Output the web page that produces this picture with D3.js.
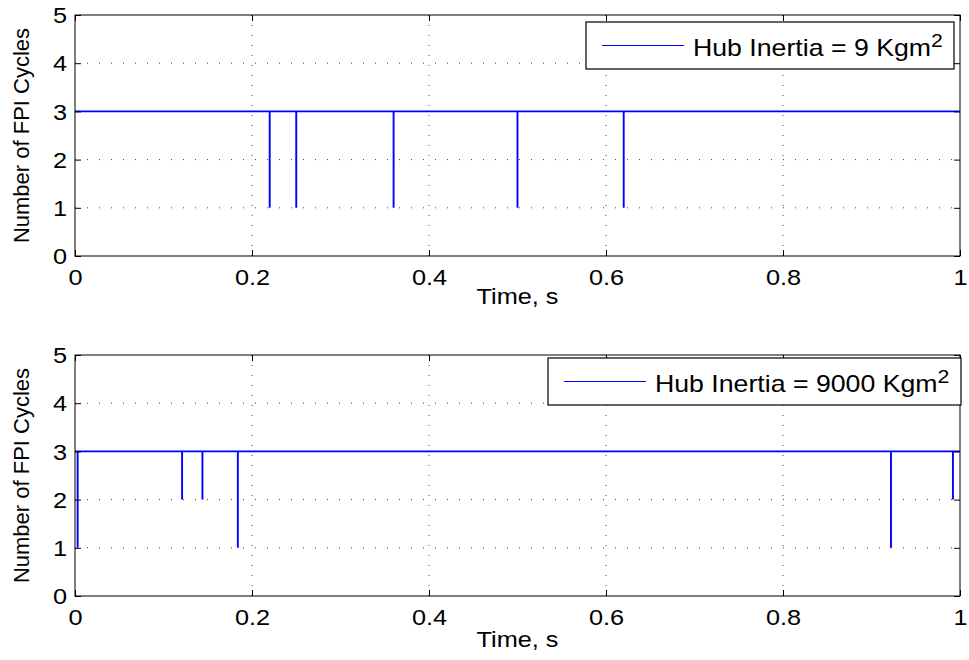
<!DOCTYPE html>
<html>
<head>
<meta charset="utf-8">
<script src="https://cdn.jsdelivr.net/npm/d3@7"></script>
<style>
	body { margin: 0; background: #fff; }
	svg { display: block; font-family: "Liberation Sans", Arial, sans-serif; }
</style>
</head>
<body>
<svg id="chart" width="969" height="660"></svg>
<script>
// data
const xTicks = [0, 0.2, 0.4, 0.6, 0.8, 1];
const yTicks = [0, 1, 2, 3, 4, 5];
const baseLevel = 3;

const spikesLight = [
	{t: 0.22, v: 1}, {t: 0.25, v: 1}, {t: 0.36, v: 1},
	{t: 0.50, v: 1}, {t: 0.62, v: 1}
];
const spikesHeavy = [
	{t: 0.003, v: 1}, {t: 0.121, v: 2}, {t: 0.144, v: 2},
	{t: 0.184, v: 1}, {t: 0.922, v: 1}, {t: 0.992, v: 2}
];

const panels = [
	{label: "Hub Inertia = 9 Kgm", spikes: spikesLight, top: 15, bottom: 256, titleY: 304,
	 legend: {x0: 586, x1: 954, y0: 22, y1: 69}},
	{label: "Hub Inertia = 9000 Kgm", spikes: spikesHeavy, top: 355, bottom: 596, titleY: 647,
	 legend: {x0: 548, x1: 961, y0: 358, y1: 405}}
];

// the reference text is a bit wider than plain Helvetica
const SX = 1.15;

function buildSeries(spikes) {
	const pts = [{t: 0, v: baseLevel}];
	spikes.forEach(s => {
		pts.push({t: s.t, v: baseLevel});
		pts.push({t: s.t, v: s.v});
		pts.push({t: s.t, v: baseLevel});
	});
	pts.push({t: 1, v: baseLevel});
	return pts;
}

const svg = d3.select('#chart');
const left = 75, right = 960;

panels.forEach(p => {
	const x = d3.scaleLinear().domain([0, 1]).range([left, right]);
	const y = d3.scaleLinear().domain([0, 5]).range([p.bottom, p.top]);
	const g = svg.append('g');

	// dotted grid
	g.append('g').selectAll('line').data(xTicks.slice(1, -1)).join('line')
		.attr('x1', d => x(d)).attr('x2', d => x(d))
		.attr('y1', p.top).attr('y2', p.bottom)
		.attr('stroke', '#444').attr('stroke-width', 1)
		.attr('stroke-dasharray', '1,9');
	g.append('g').selectAll('line').data(yTicks.slice(1, -1)).join('line')
		.attr('x1', left).attr('x2', right)
		.attr('y1', d => y(d)).attr('y2', d => y(d))
		.attr('stroke', '#444').attr('stroke-width', 1)
		.attr('stroke-dasharray', '1,11');

	// series
	const line = d3.line().x(d => x(d.t)).y(d => y(d.v));
	g.append('path')
		.datum(buildSeries(p.spikes))
		.attr('d', line)
		.attr('fill', 'none')
		.attr('stroke', '#0000ff')
		.attr('stroke-width', 1.9);

	// box
	g.append('rect')
		.attr('x', left).attr('y', p.top)
		.attr('width', right - left).attr('height', p.bottom - p.top)
		.attr('fill', 'none').attr('stroke', '#000').attr('stroke-width', 1);

	// inward ticks on all four sides
	const xb = d3.axisBottom(x).tickValues(xTicks).tickSize(-6).tickFormat(d3.format('~g'));
	const yl = d3.axisLeft(y).tickValues(yTicks).tickSize(-6).tickFormat(d3.format('d'));
	const xt = d3.axisTop(x).tickValues(xTicks).tickSize(-6).tickFormat('');
	const yr = d3.axisRight(y).tickValues(yTicks).tickSize(-6).tickFormat('');

	const ax = g.append('g').attr('transform', `translate(0,${p.bottom})`).call(xb);
	ax.selectAll('text').attr('dy', 0).attr('y', 29).attr('x', 0);
	const ay = g.append('g').attr('transform', `translate(${left},0)`).call(yl);
	ay.selectAll('text').attr('x', -8 / SX).attr('dy', '0.35em');
	g.append('g').attr('transform', `translate(0,${p.top})`).call(xt);
	g.append('g').attr('transform', `translate(${right},0)`).call(yr);

	g.selectAll('.domain').remove();
	g.selectAll('.tick line').attr('stroke', '#000');
	g.selectAll('.tick text')
		.attr('font-family', '"Liberation Sans", Arial, sans-serif')
		.attr('font-size', 22).attr('fill', '#000')
		.attr('transform', `scale(${SX},1)`);

	// axis titles
	g.append('text')
		.attr('transform', `translate(${(left + right) / 2},${p.titleY}) scale(${SX},1)`)
		.attr('text-anchor', 'middle').attr('font-size', 22)
		.text('Time, s');
	g.append('text')
		.attr('transform', `translate(29,${(p.top + p.bottom) / 2}) rotate(-90)`)
		.attr('text-anchor', 'middle').attr('font-size', 22)
		.text('Number of FPI Cycles');

	// legend
	const L = p.legend;
	g.append('rect')
		.attr('x', L.x0).attr('y', L.y0)
		.attr('width', L.x1 - L.x0).attr('height', L.y1 - L.y0)
		.attr('fill', '#fff').attr('stroke', '#000').attr('stroke-width', 1.2);
	const ly = (L.y0 + L.y1) / 2;
	g.append('line')
		.attr('x1', L.x0 + 16).attr('x2', L.x0 + 98)
		.attr('y1', ly).attr('y2', ly)
		.attr('stroke', '#0000ff').attr('stroke-width', 1);
	const t = g.append('text')
		.attr('transform', `translate(${L.x0 + 107},${ly + 10}) scale(${SX},1)`)
		.attr('font-size', 23.2);
	t.append('tspan').text(p.label);
	t.append('tspan').attr('dy', -9).attr('font-size', 18.5).text('2');
});
</script>
</body>
</html>
